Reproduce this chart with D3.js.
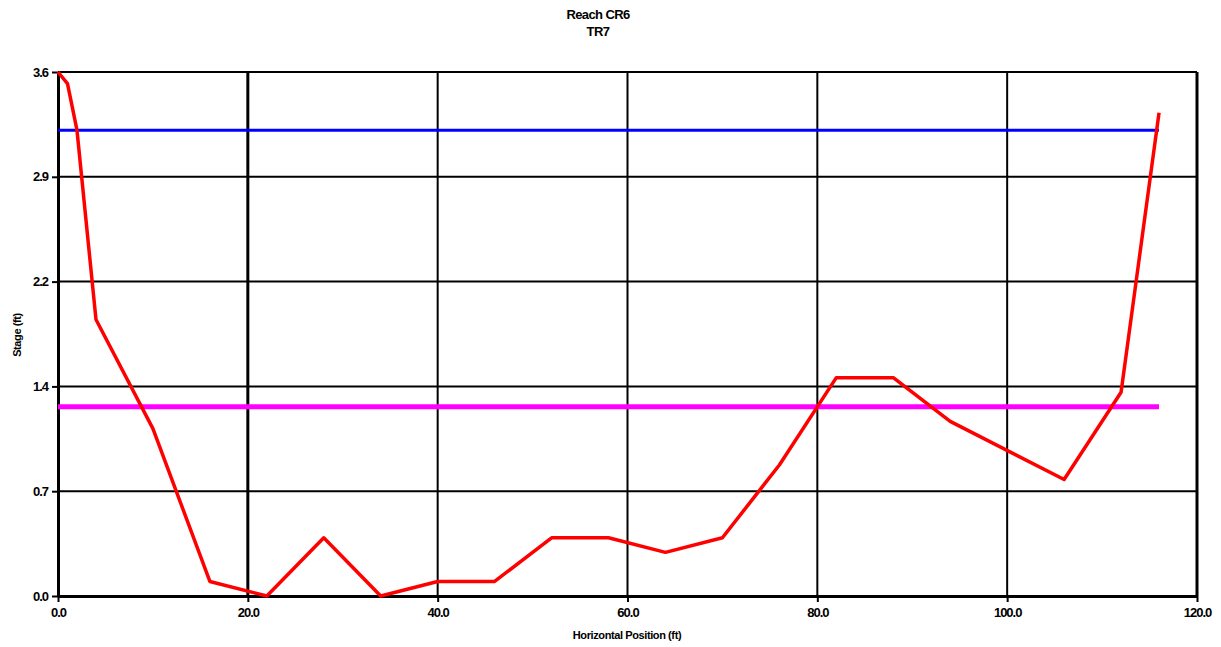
<!DOCTYPE html>
<html>
<head>
<meta charset="utf-8">
<script src="https://cdn.jsdelivr.net/npm/d3@7"></script>
<style>
  body { margin: 0; background: #fff; }
  svg text { font-family: "Liberation Sans", Arial, sans-serif; font-weight: bold; fill: #000; }
</style>
</head>
<body>
<div id="chart"></div>
<script>
// data
const positions = [0, 1, 2, 4, 10, 16, 22, 28, 34, 40, 46, 52, 58, 64, 70, 76, 82, 88, 94, 106, 112, 116];
const stages = [3.6, 3.52, 3.2, 1.9, 1.15, 0.1, 0, 0.4, 0, 0.1, 0.1, 0.4, 0.4, 0.3, 0.4, 0.9, 1.5, 1.5, 1.2, 0.8, 1.4, 3.32];
const levelBlue = 3.2;
const levelMagenta = 1.3;
const levelEnd = 116;
const xTicks = [0, 20, 40, 60, 80, 100, 120];
const yTickLabels = ["0.0", "0.7", "1.4", "2.2", "2.9", "3.6"];
const titleLines = ["Reach CR6", "TR7"];

const width = 1221, height = 647;
const margin = {left: 58, right: 24, top: 72, bottom: 51};

const svg = d3.select("#chart").append("svg")
    .attr("width", width)
    .attr("height", height);

const x = d3.scaleLinear().domain([0, 120]).range([margin.left, width - margin.right]);
const y = d3.scaleLinear().domain([0, 3.6]).range([height - margin.bottom, margin.top]);

// y grid at six even steps of the 0..3.6 range
const yGrid = d3.range(6).map(i => i * 3.6 / 5);

//grid
svg.append("g").selectAll("line.h")
    .data(yGrid)
    .enter().append("line")
    .attr("x1", x(0)).attr("x2", x(120))
    .attr("y1", d => y(d)).attr("y2", d => y(d))
    .style("stroke", "#000").style("stroke-width", 2);

svg.append("g").selectAll("line.v")
    .data(xTicks.slice(1))
    .enter().append("line")
    .attr("x1", d => x(d)).attr("x2", d => x(d))
    .attr("y1", y(0)).attr("y2", y(3.6))
    .style("stroke", "#000").style("stroke-width", (d, i) => (i == 0 || d == 120) ? 3 : 2);

//axes
svg.append("g")
    .attr("transform", "translate(0," + y(0) + ")")
    .call(d3.axisBottom(x).tickValues(xTicks).tickFormat(d3.format(".1f")).tickSize(6).tickSizeOuter(0))
    .call(g => g.select(".domain").style("stroke-width", 3))
    .call(g => g.selectAll(".tick line").style("stroke-width", 2))
    .call(g => g.selectAll("text").style("font-size", "13px").attr("dy", "0.9em").style("letter-spacing", "-1px"));

svg.append("g")
    .attr("transform", "translate(" + x(0) + ",0)")
    .call(d3.axisLeft(y).tickValues(yGrid).tickFormat((d, i) => yTickLabels[i]).tickSize(6).tickSizeOuter(0))
    .call(g => g.select(".domain").style("stroke-width", 3))
    .call(g => g.selectAll(".tick line").style("stroke-width", 2))
    .call(g => g.selectAll("text").style("font-size", "13px").attr("x", -10).style("letter-spacing", "-1px"));

//level lines
svg.append("line")
    .attr("x1", x(0)).attr("x2", x(levelEnd))
    .attr("y1", y(levelBlue)).attr("y2", y(levelBlue))
    .style("stroke", "#0000ff").style("stroke-width", 3);

svg.append("line")
    .attr("x1", x(0)).attr("x2", x(levelEnd))
    .attr("y1", y(levelMagenta)).attr("y2", y(levelMagenta))
    .style("stroke", "#ff00ff").style("stroke-width", 5);

//cross-section
const line = d3.line()
    .x((d, i) => x(positions[i]))
    .y(d => y(d));

svg.append("path")
    .datum(stages)
    .attr("d", line)
    .style("fill", "none")
    .style("stroke", "#ff0000")
    .style("stroke-width", 3.5)
    .style("stroke-linejoin", "round");

//titles
svg.selectAll(".title")
    .data(titleLines)
    .enter().append("text")
    .attr("x", 598)
    .attr("y", (d, i) => 19 + i * 17)
    .attr("text-anchor", "middle")
    .style("font-size", "13px")
    .style("letter-spacing", "-0.6px")
    .text(d => d);

svg.append("text")
    .attr("x", 627)
    .attr("y", 639)
    .attr("text-anchor", "middle")
    .style("font-size", "11px")
    .style("letter-spacing", "-0.4px")
    .text("Horizontal Position (ft)");

svg.append("text")
    .attr("transform", "translate(21,335) rotate(-90)")
    .attr("text-anchor", "middle")
    .style("font-size", "11px")
    .style("letter-spacing", "-0.4px")
    .text("Stage (ft)");
</script>
</body>
</html>
